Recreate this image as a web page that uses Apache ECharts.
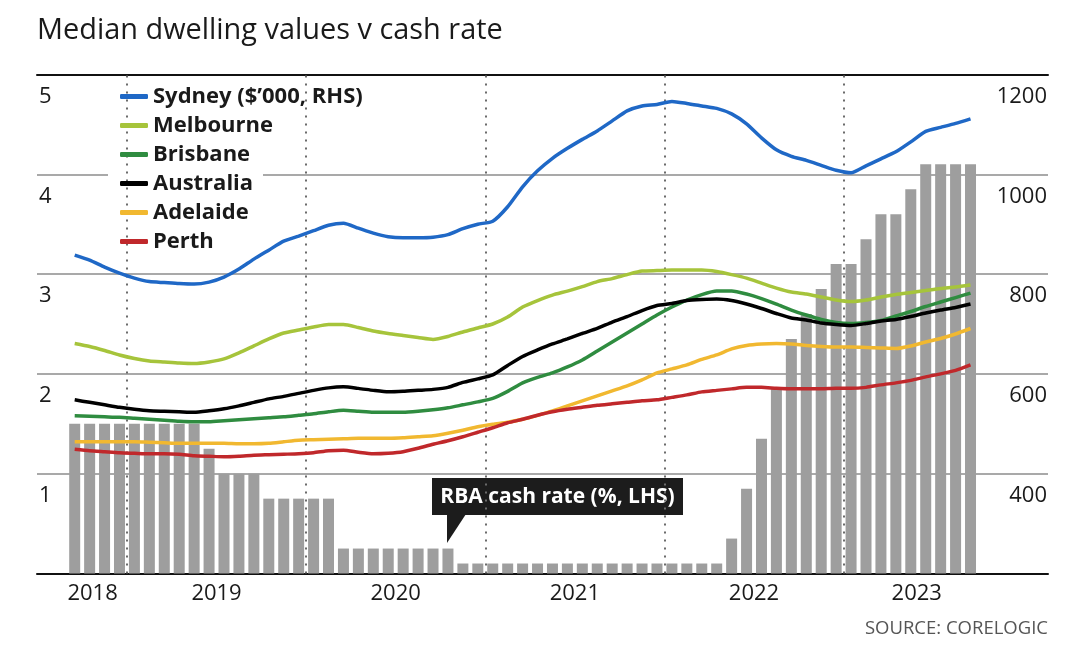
<!DOCTYPE html>
<html>
<head>
<meta charset="utf-8">
<script src="https://cdn.jsdelivr.net/npm/echarts@6/dist/echarts.min.js"></script>
<style>
html,body{margin:0;padding:0;background:#fff;}
#chart{width:1080px;height:659px;}
</style>
</head>
<body>
<div id="chart"></div>
<script>
// Months: Sep 2018 .. Sep 2023
const months = ['2018-09','2018-10','2018-11','2018-12',
 '2019-01','2019-02','2019-03','2019-04','2019-05','2019-06','2019-07','2019-08','2019-09','2019-10','2019-11','2019-12',
 '2020-01','2020-02','2020-03','2020-04','2020-05','2020-06','2020-07','2020-08','2020-09','2020-10','2020-11','2020-12',
 '2021-01','2021-02','2021-03','2021-04','2021-05','2021-06','2021-07','2021-08','2021-09','2021-10','2021-11','2021-12',
 '2022-01','2022-02','2022-03','2022-04','2022-05','2022-06','2022-07','2022-08','2022-09','2022-10','2022-11','2022-12',
 '2023-01','2023-02','2023-03','2023-04','2023-05','2023-06','2023-07','2023-08','2023-09'];

// RBA cash rate (%, LHS)
const cashRate = [1.5,1.5,1.5,1.5,1.5,1.5,1.5,1.5,1.5,1.25,1,1,1,0.75,0.75,0.75,0.75,0.75,
 0.25,0.25,0.25,0.25,0.25,0.25,0.25,0.25,
 0.1,0.1,0.1,0.1,0.1,0.1,0.1,0.1,0.1,0.1,0.1,0.1,0.1,0.1,0.1,0.1,0.1,0.1,
 0.35,0.85,1.35,1.85,2.35,2.6,2.85,3.1,3.1,3.35,3.6,3.6,3.85,4.1,4.1,4.1,4.1];

// Median dwelling values ($'000, RHS)
const sydney = [838,828,814,802,792,785,783,781,780,784,794,810,830,848,866,876,887,898,902,892,
 882,875,873,873,874,879,891,900,906,935,975,1007,1032,1052,1070,1087,1107,1127,1137,1140,
 1146,1142,1137,1132,1121,1101,1073,1049,1036,1028,1018,1008,1003,1017,1031,1045,1065,1086,1094,1102,1111];
const melbourne = [661,655,647,638,631,626,624,622,621,624,630,642,656,670,682,688,694,699,699,693,
 686,681,677,673,669,675,684,692,700,714,734,747,758,766,775,785,791,799,806,807,
 808,808,808,805,799,792,782,772,764,760,754,748,745,748,754,759,763,767,771,774,778];
const brisbane = [516,515,514,513,511,509,507,505,504,504,506,508,510,512,514,517,520,524,527,525,
 523,523,523,525,528,532,538,544,551,565,582,593,602,614,628,646,664,682,700,718,
 734,748,759,766,766,760,751,740,728,718,709,703,701,703,707,716,725,735,744,753,762];
const australia = [548,543,538,533,529,526,525,524,523,526,530,536,543,550,555,561,567,572,574,571,
 567,564,565,567,569,573,583,590,598,617,635,648,660,670,681,691,704,715,727,737,
 741,747,749,750,747,740,731,721,712,708,702,699,697,701,706,709,715,722,728,733,740];
const adelaide = [464,464,464,464,464,463,462,461,461,461,461,460,460,461,464,467,468,469,470,471,
 471,471,472,474,476,481,487,494,499,503,509,517,526,536,546,556,566,576,588,602,
 610,618,629,638,650,657,660,661,660,657,655,654,654,653,652,651,656,664,671,680,691];
const perth = [449,446,444,442,441,440,440,439,436,435,434,435,437,438,439,440,442,446,447,443,
 440,441,444,451,459,466,474,483,492,502,509,517,524,529,533,537,540,543,546,548,
 553,558,564,567,570,573,573,571,570,570,570,571,571,573,578,582,587,594,600,607,618];

const seriesNames = ['Sydney ($\u2019000, RHS)','Melbourne','Brisbane','Australia','Adelaide','Perth'];
const seriesColors = ['#1f68c6','#a6c43b','#2f8c40','#000000','#f1b830','#c0282b'];
const seriesData = [sydney, melbourne, brisbane, australia, adelaide, perth];

// Year tick labels and where they sit (month index)
const yearLabels = ['2018','2019','2020','2021','2022','2023'];
const yearLabelPos = [1.2, 9.5, 21.5, 33.5, 45.5, 56.4];
const leftTicks = ['1','2','3','4','5'];
const rightTicks = ['400','600','800','1000','1200'];

// Year boundaries (between Dec and Jan)
const yearBounds = months.map((m,i)=> m.endsWith('-01') ? i - 0.5 : null).filter(v => v !== null);

const FONT = 'Open Sans';
const chart = echarts.init(document.getElementById('chart'), null, {renderer:'canvas'});

const xMin = -2.525, xMax = 65.19;

const series = [{
  name: 'RBA cash rate',
  type: 'bar',
  xAxisIndex: 0,
  yAxisIndex: 0,
  barWidth: 11,
  itemStyle: {color: '#9e9e9e'},
  data: cashRate.map((v,i)=>[i,v]),
  z: 1,
  markLine: {
    silent: true,
    symbol: ['none','none'],
    label: {show:false},
    lineStyle: {color:'#6b6b6b', type:[2,6], width:2},
    data: yearBounds.map(v => ({xAxis: v}))
  }
}];
seriesData.forEach((arr, k) => {
  series.push({
    name: seriesNames[k],
    type: 'line',
    xAxisIndex: 0,
    yAxisIndex: 1,
    symbol: 'none',
    smooth: 0.2,
    lineStyle: {color: seriesColors[k], width: 3.5},
    itemStyle: {color: seriesColors[k]},
    data: arr.map((v,i)=>[i,v]),
    z: 5
  });
});

const option = {
  animation: false,
  backgroundColor: '#fff',
  title: {
    text: 'Median dwelling values v cash rate',
    left: 32, top: 11,
    textStyle: {fontFamily: FONT, fontSize: 28.9, fontWeight: 'normal', color: '#1a1a1a'}
  },
  legend: {
    orient: 'vertical',
    left: 120, top: 82,
    padding: 0,
    itemGap: 0,
    itemWidth: 28, itemHeight: 5,
    icon: 'roundRect',
    selectedMode: false,
    z: 10,
    textStyle: {fontFamily: FONT, fontWeight: 'bold', fontSize: 22, color: '#1a1a1a', lineHeight: 29},
    data: seriesNames
  },
  grid: {left: 37, right: 32, top: 74.5, bottom: 85.5, containLabel: false},
  xAxis: [{
    type: 'value', min: xMin, max: xMax, position: 'bottom',
    axisLine: {show: true, onZero: false, lineStyle: {color: '#111', width: 2}},
    axisTick: {show: false},
    splitLine: {show: false},
    axisLabel: {
      customValues: yearLabelPos,
      margin: 9,
      fontFamily: FONT, fontSize: 22, color: '#1a1a1a',
      formatter: v => { const i = yearLabelPos.indexOf(v); return i >= 0 ? yearLabels[i] : ''; }
    }
  },{
    type: 'value', min: xMin, max: xMax, position: 'top',
    axisLine: {show: true, onZero: false, lineStyle: {color: '#111', width: 2}},
    axisTick: {show: false}, splitLine: {show: false}, axisLabel: {show: false}
  }],
  yAxis: [{
    type: 'value', min: 0, max: 5, interval: 1, position: 'left',
    axisLine: {show: false}, axisTick: {show: false},
    splitLine: {show: true, lineStyle: {color: '#8c8c8c', width: 1.5}},
    axisLabel: {
      inside: true, margin: 2, verticalAlign: 'top', padding: [11,0,0,0],
      showMinLabel: false,
      fontFamily: FONT, fontSize: 22, color: '#1a1a1a',
      formatter: v => leftTicks[Math.round(v) - 1] || ''
    }
  },{
    type: 'value', min: 200, max: 1200, interval: 200, position: 'right',
    axisLine: {show: false}, axisTick: {show: false}, splitLine: {show: false},
    axisLabel: {
      inside: true, margin: 1, verticalAlign: 'top', padding: [11,0,0,0],
      showMinLabel: false,
      fontFamily: FONT, fontSize: 22, color: '#1a1a1a',
      formatter: v => rightTicks[Math.round((v - 400) / 200)] || ''
    }
  }],
  graphic: [
    {type: 'rect', z: 3, shape: {x: 108, y: 76, width: 155, height: 181}, style: {fill: '#fff'}, silent: true},
    {type: 'group', z: 20, children: [
      {type: 'rect', shape: {x: 432, y: 478, width: 251, height: 37}, style: {fill: '#1c1c1c'}},
      {type: 'polygon', shape: {points: [[447,514],[466,514],[447,543]]}, style: {fill: '#1c1c1c'}},
      {type: 'text', x: 557.5, y: 497, style: {text: 'RBA cash rate (%, LHS)', fill: '#fff',
        font: 'bold 21px "Open Sans"', textAlign: 'center', textVerticalAlign: 'middle'}}
    ]},
    {type: 'text', z: 20, right: 32, top: 619, style: {text: 'SOURCE: CORELOGIC', fill: '#555',
      font: '18.5px "Open Sans"'}}
  ],
  series: series
};
chart.setOption(option);
</script>
</body>
</html>
